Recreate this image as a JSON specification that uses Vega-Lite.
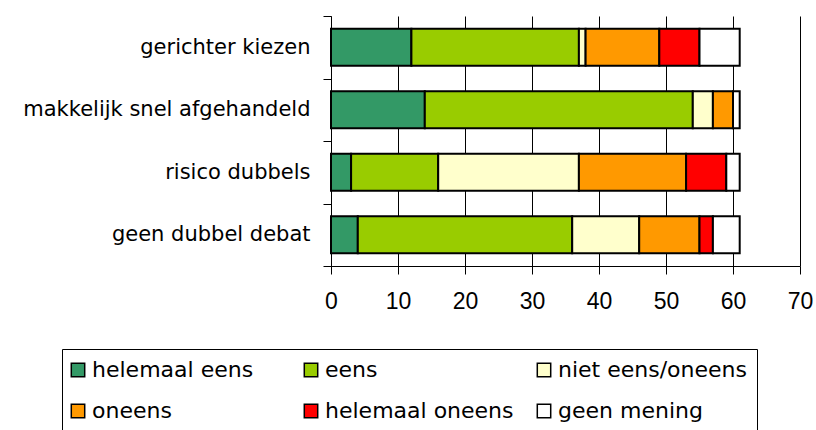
{
  "$schema": "https://vega.github.io/schema/vega-lite/v6.json",
  "width": 469,
  "height": 250,
  "autosize": {"type": "none"},
  "padding": {"left": 331, "top": 16, "right": 16, "bottom": 164},
  "background": "white",
  "config": {"view": {"stroke": null}},
  "data": {
    "values": [
      {"item": "gerichter kiezen", "answer": "helemaal eens", "rank": 1, "value": 12},
      {"item": "gerichter kiezen", "answer": "eens", "rank": 2, "value": 25},
      {"item": "gerichter kiezen", "answer": "niet eens/oneens", "rank": 3, "value": 1},
      {"item": "gerichter kiezen", "answer": "oneens", "rank": 4, "value": 11},
      {"item": "gerichter kiezen", "answer": "helemaal oneens", "rank": 5, "value": 6},
      {"item": "gerichter kiezen", "answer": "geen mening", "rank": 6, "value": 6},
      {"item": "makkelijk snel afgehandeld", "answer": "helemaal eens", "rank": 1, "value": 14},
      {"item": "makkelijk snel afgehandeld", "answer": "eens", "rank": 2, "value": 40},
      {"item": "makkelijk snel afgehandeld", "answer": "niet eens/oneens", "rank": 3, "value": 3},
      {"item": "makkelijk snel afgehandeld", "answer": "oneens", "rank": 4, "value": 3},
      {"item": "makkelijk snel afgehandeld", "answer": "geen mening", "rank": 6, "value": 1},
      {"item": "risico dubbels", "answer": "helemaal eens", "rank": 1, "value": 3},
      {"item": "risico dubbels", "answer": "eens", "rank": 2, "value": 13},
      {"item": "risico dubbels", "answer": "niet eens/oneens", "rank": 3, "value": 21},
      {"item": "risico dubbels", "answer": "oneens", "rank": 4, "value": 16},
      {"item": "risico dubbels", "answer": "helemaal oneens", "rank": 5, "value": 6},
      {"item": "risico dubbels", "answer": "geen mening", "rank": 6, "value": 2},
      {"item": "geen dubbel debat", "answer": "helemaal eens", "rank": 1, "value": 4},
      {"item": "geen dubbel debat", "answer": "eens", "rank": 2, "value": 32},
      {"item": "geen dubbel debat", "answer": "niet eens/oneens", "rank": 3, "value": 10},
      {"item": "geen dubbel debat", "answer": "oneens", "rank": 4, "value": 9},
      {"item": "geen dubbel debat", "answer": "helemaal oneens", "rank": 5, "value": 2},
      {"item": "geen dubbel debat", "answer": "geen mening", "rank": 6, "value": 4}
    ]
  },
  "mark": {"type": "bar", "stroke": "black", "strokeWidth": 2, "height": {"band": 0.592}},
  "encoding": {
    "y": {
      "field": "item",
      "type": "nominal",
      "sort": ["gerichter kiezen", "makkelijk snel afgehandeld", "risico dubbels", "geen dubbel debat"],
      "scale": {"paddingInner": 0, "paddingOuter": 0},
      "axis": {
        "title": null,
        "tickBand": "extent",
        "domainColor": "black",
        "domainWidth": 1,
        "tickColor": "black",
        "tickWidth": 1,
        "tickSize": 8,
        "labelFont": "DejaVu Sans",
        "labelFontSize": 21,
        "labelColor": "black",
        "labelPadding": 13,
        "labelLimit": 400,
        "grid": false
      }
    },
    "x": {
      "field": "value",
      "type": "quantitative",
      "stack": "zero",
      "scale": {"domain": [0, 70], "nice": false},
      "axis": {
        "title": null,
        "values": [0, 10, 20, 30, 40, 50, 60, 70],
        "grid": true,
        "gridColor": "black",
        "gridWidth": 1,
        "gridOpacity": 1,
        "domainColor": "black",
        "domainWidth": 1,
        "tickColor": "black",
        "tickWidth": 1,
        "tickSize": 8,
        "labelFont": "Liberation Sans",
        "labelFontSize": 23,
        "labelColor": "black",
        "labelPadding": 16,
        "labelFlush": false
      }
    },
    "order": {"field": "rank", "type": "quantitative", "sort": "ascending"},
    "color": {
      "field": "answer",
      "type": "nominal",
      "sort": ["helemaal eens", "eens", "niet eens/oneens", "oneens", "helemaal oneens", "geen mening"],
      "scale": {
        "domain": ["helemaal eens", "eens", "niet eens/oneens", "oneens", "helemaal oneens", "geen mening"],
        "range": ["#339966", "#99CC00", "#FFFFCC", "#FF9900", "#FF0000", "#FFFFFF"]
      },
      "legend": {
        "title": null,
        "orient": "none",
        "legendX": -269,
        "legendY": 333,
        "direction": "horizontal",
        "columns": 3,
        "gridAlign": "all",
        "columnPadding": 20,
        "rowPadding": 19,
        "padding": 10,
        "strokeColor": "black",
        "fillColor": "white",
        "symbolType": "square",
        "symbolSize": 180,
        "symbolOffset": -5,
        "symbolStrokeColor": "black",
        "symbolStrokeWidth": 1.5,
        "symbolOpacity": 1,
        "labelFont": "DejaVu Sans",
        "labelFontSize": 22,
        "labelColor": "black",
        "labelOffset": 3,
        "labelLimit": 400
      }
    }
  }
}
